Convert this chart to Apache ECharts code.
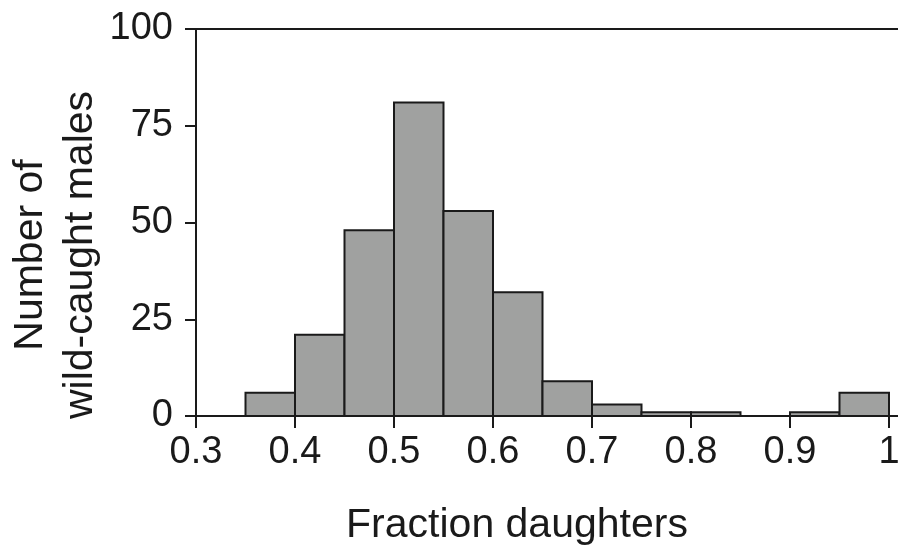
<!DOCTYPE html>
<html>
<head>
<meta charset="utf-8">
<script src="https://cdn.jsdelivr.net/npm/echarts@6/dist/echarts.min.js"></script>
<style>
  html, body { margin: 0; padding: 0; background: #fff; }
  #chart { width: 898px; height: 558px; }
</style>
</head>
<body>
<div id="chart"></div>
<script>
// histogram bins (left edge of each 0.05 bin) and counts
var binStarts = [0.35, 0.40, 0.45, 0.50, 0.55, 0.60, 0.65, 0.70, 0.75, 0.80, 0.85, 0.90, 0.95];
var counts = [6, 21, 48, 81, 53, 32, 9, 3, 1, 1, 0, 1, 6];
var binWidth = 0.05;
var xTicks = [0.3, 0.4, 0.5, 0.6, 0.7, 0.8, 0.9, 1];
var yTicks = [0, 25, 50, 75, 100];

var ink = '#1a1a1a';
var font = 'Liberation Sans, Arial, Helvetica, sans-serif';

var data = binStarts.map(function (x, i) {
    return [x, +(x + binWidth).toFixed(2), counts[i]];
});

var chart = echarts.init(document.getElementById('chart'));

// axis runs a little past 1 so the lines reach the right edge
var xMax = 0.3 + 0.7 * 702 / 693;

var option = {
    animation: false,
    backgroundColor: '#fff',
    grid: { left: 196, right: 0, top: 29, bottom: 142, outerBoundsMode: 'none', containLabel: false },
    xAxis: [
        {
            type: 'value',
            min: 0.3,
            max: xMax,
            interval: 0.1,
            position: 'bottom',
            axisLine: { show: true, lineStyle: { color: ink, width: 2 } },
            axisTick: {
                show: true, inside: false, length: 12,
                customValues: xTicks,
                lineStyle: { color: ink, width: 2 }
            },
            axisLabel: {
                margin: 18,
                fontSize: 38,
                fontFamily: font,
                color: ink,
                customValues: xTicks,
                formatter: function (v) {
                    return String(Math.round(v * 10) / 10);
                }
            },
            splitLine: { show: false }
        },
        {
            // top frame line at 100
            type: 'value',
            min: 0.3,
            max: xMax,
            position: 'top',
            axisLine: { show: true, lineStyle: { color: ink, width: 2 } },
            axisTick: { show: false },
            axisLabel: { show: false },
            splitLine: { show: false }
        }
    ],
    yAxis: {
        type: 'value',
        min: yTicks[0],
        max: yTicks[yTicks.length - 1],
        interval: 25,
        axisLine: { show: true, lineStyle: { color: ink, width: 2 } },
        axisTick: { show: true, inside: false, length: 11, lineStyle: { color: ink, width: 2 } },
        axisLabel: { margin: 23, fontSize: 38, fontFamily: font, color: ink },
        splitLine: { show: false }
    },
    graphic: [
        {
            type: 'text',
            x: 517,
            y: 526,
            style: {
                text: 'Fraction daughters',
                font: '41px ' + font,
                fill: ink,
                align: 'center',
                verticalAlign: 'middle'
            }
        },
        {
            type: 'text',
            x: 56,
            y: 255,
            rotation: Math.PI / 2,
            style: {
                text: 'Number of\nwild-caught males',
                font: '41px ' + font,
                lineHeight: 50,
                fill: ink,
                align: 'center',
                verticalAlign: 'middle'
            }
        }
    ],
    series: [
        {
            type: 'custom',
            xAxisIndex: 0,
            yAxisIndex: 0,
            data: data,
            encode: { x: [0, 1], y: 2 },
            renderItem: function (params, api) {
                var p0 = api.coord([api.value(0), api.value(2)]);
                var p1 = api.coord([api.value(1), 0]);
                return {
                    type: 'rect',
                    shape: { x: p0[0], y: p0[1], width: p1[0] - p0[0], height: p1[1] - p0[1] },
                    style: { fill: '#a0a1a0', stroke: ink, lineWidth: 2 }
                };
            }
        }
    ]
};

chart.setOption(option);
</script>
</body>
</html>
